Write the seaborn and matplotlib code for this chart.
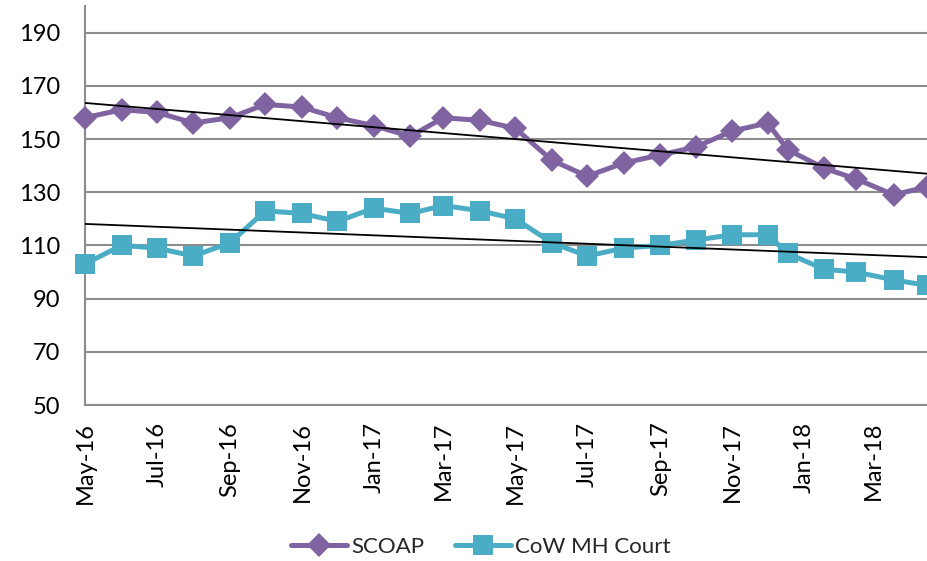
import pandas as pd
import seaborn as sns
import matplotlib.pyplot as plt
import matplotlib.dates as mdates
from matplotlib.lines import Line2D

# DATA
dates = ["2016-05-01", "2016-06-01", "2016-07-01", "2016-08-01", "2016-09-01",
         "2016-10-01", "2016-11-01", "2016-12-01", "2017-01-01", "2017-02-01",
         "2017-03-01", "2017-04-01", "2017-05-01", "2017-06-01", "2017-07-01",
         "2017-08-01", "2017-09-01", "2017-10-01", "2017-11-01", "2017-12-01",
         "2017-12-18", "2018-01-18", "2018-02-14", "2018-03-18", "2018-04-15"]
scoap = [158, 161, 160, 156, 158, 163, 162, 158, 155, 151, 158, 157, 154,
         142, 136, 141, 144, 147, 153, 156, 146, 139, 135, 129, 132]
cow_mh = [103, 110, 109, 106, 111, 123, 122, 119, 124, 122, 125, 123, 120,
          111, 106, 109, 110, 112, 114, 114, 107, 101, 100, 97, 95]
tick_labels = ["May-16", "Jul-16", "Sep-16", "Nov-16", "Jan-17", "Mar-17",
               "May-17", "Jul-17", "Sep-17", "Nov-17", "Jan-18", "Mar-18"]
y_ticks = [50, 70, 90, 110, 130, 150, 170, 190]

df = pd.DataFrame({'Date': pd.to_datetime(dates), 'SCOAP': scoap, 'CoW MH Court': cow_mh})
df['num'] = mdates.date2num(df['Date'])

sns.set_style('white')
plt.rcParams['font.family'] = ['Lato', 'DejaVu Sans']

PURPLE = '#8064A2'
CYAN = '#4BACC6'
GRID = '#8c8c8c'

fig = plt.figure(figsize=(9.28, 5.61), dpi=100)
ax = fig.add_axes([85 / 928, 1 - 405 / 561, 1 - 85 / 928, (405 - 6) / 561])

sns.lineplot(data=df, x='Date', y='SCOAP', ax=ax, color=PURPLE, lw=3.6,
             marker='D', markersize=12.5, markeredgewidth=0, clip_on=False, zorder=4)
sns.lineplot(data=df, x='Date', y='CoW MH Court', ax=ax, color=CYAN, lw=3.6,
             marker='s', markersize=14.5, markeredgewidth=0, clip_on=False, zorder=3)

# linear trendlines
for col in ['SCOAP', 'CoW MH Court']:
    sns.regplot(data=df, x='num', y=col, ax=ax, scatter=False, ci=None,
                line_kws={'color': 'black', 'lw': 1.3, 'zorder': 5})

ax.set_ylim(50, 200)
ax.set_yticks(y_ticks)
ax.set_xlim(mdates.date2num(pd.Timestamp('2016-05-01')),
            mdates.date2num(pd.Timestamp('2018-04-16')))
ax.set_xticks(mdates.date2num(pd.to_datetime(tick_labels, format='%b-%y')))
ax.set_xticklabels(tick_labels, rotation=90)
ax.set_xlabel('')
ax.set_ylabel('')

ax.grid(axis='y', color=GRID, lw=1.5)
ax.set_axisbelow(True)
for side in ['top', 'right']:
    ax.spines[side].set_visible(False)
for side in ['left', 'bottom']:
    ax.spines[side].set_color(GRID)
    ax.spines[side].set_linewidth(1.5)
ax.tick_params(axis='y', length=0, pad=18, labelsize=17, labelcolor='black')
ax.tick_params(axis='x', length=0, pad=12, labelsize=17, labelcolor='black')

handles = [Line2D([], [], color=PURPLE, lw=3.6, marker='D', markersize=12.5, markeredgewidth=0),
           Line2D([], [], color=CYAN, lw=3.6, marker='s', markersize=14.5, markeredgewidth=0)]
fig.legend(handles, ['SCOAP', 'CoW MH Court'], loc='center',
           bbox_to_anchor=(481 / 928, 1 - 547 / 561), ncol=2, frameon=False,
           fontsize=16, handlelength=2.5, handletextpad=0.2, columnspacing=1.4)

fig.savefig('out.png', dpi=100)
